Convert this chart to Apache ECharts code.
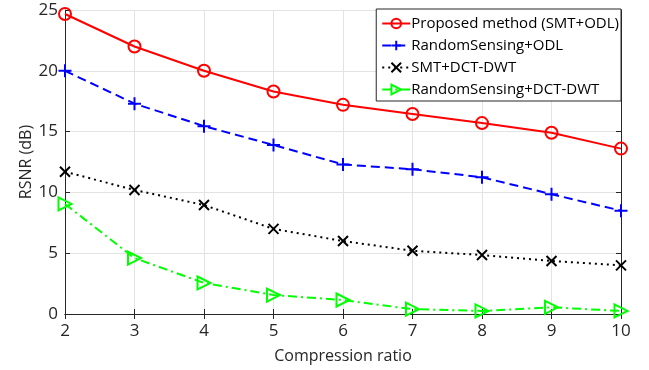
<!DOCTYPE html>
<html><head><meta charset="utf-8">
<script src="https://cdn.jsdelivr.net/npm/echarts@6/dist/echarts.min.js"></script>
<style>html,body{margin:0;padding:0;background:#fff}#c{width:649px;height:370px}</style>
</head><body><div id="c"></div>
<script>
const categories = [2, 3, 4, 5, 6, 7, 8, 9, 10];
const seriesNames = ['Proposed method (SMT+ODL)', 'RandomSensing+ODL', 'SMT+DCT-DWT', 'RandomSensing+DCT-DWT'];
const proposed = [24.67, 22.0, 20.0, 18.3, 17.2, 16.45, 15.7, 14.9, 13.6];
const randomOdl = [20.0, 17.3, 15.45, 13.9, 12.3, 11.9, 11.25, 9.85, 8.5];
const smtDct = [11.7, 10.2, 8.96, 7.0, 6.0, 5.2, 4.85, 4.36, 4.0];
const randomDct = [9.05, 4.6, 2.55, 1.56, 1.15, 0.4, 0.25, 0.55, 0.25];
const yTicks = [0, 5, 10, 15, 20, 25];

const font = 'Open Sans';
const axisCol = '#262626';
const pair = arr => arr.map((v, i) => [categories[i], v]);

function mk(name, data, color, symbol, size, lineType) {
  return {
    name, type: 'line', data: pair(data), symbol, symbolSize: size,
    showAllSymbol: true,
    lineStyle: { color, width: 2, type: lineType },
    itemStyle: { color: 'transparent', borderColor: color, borderWidth: 2 },
    emphasis: { disabled: true }, z: 3
  };
}
const chart = echarts.init(document.getElementById('c'), null, { renderer: 'canvas' });
const baseX = {
  type: 'value', min: 2, max: 10, interval: 1,
  axisLine: { show: true, lineStyle: { color: axisCol, width: 1 } },
  axisTick: { show: true, inside: true, length: 5, lineStyle: { color: axisCol } },
};
const baseY = {
  type: 'value', min: yTicks[0], max: yTicks[yTicks.length - 1], interval: 5,
  axisLine: { show: true, lineStyle: { color: axisCol, width: 1 } },
  axisTick: { show: true, inside: true, length: 5, lineStyle: { color: axisCol } },
};
chart.setOption({
  animation: false,
  grid: { left: 65, right: 28, top: 10, bottom: 56, containLabel: false, outerBoundsMode: 'none' },
  legend: {
    orient: 'vertical', right: 28, top: 9,
    data: seriesNames,
    backgroundColor: '#fff', borderColor: axisCol, borderWidth: 1,
    padding: [7, 2, 4, 5], itemGap: 7, itemWidth: 28, itemHeight: 12,
    textStyle: { fontFamily: font, fontSize: 15, color: '#000', padding: [0, 0, 0, -4] },
    z: 10
  },
  xAxis: [
    Object.assign({}, baseX, {
      position: 'bottom',
      name: 'Compression ratio', nameLocation: 'middle', nameGap: 34, nameMoveOverlap: false,
      nameTextStyle: { fontFamily: font, fontSize: 16, color: axisCol },
      axisLabel: { fontFamily: font, fontSize: 17, color: axisCol, margin: 9 },
      splitLine: { show: true, lineStyle: { color: '#e3e3e3', width: 1 } }
    }),
    Object.assign({}, baseX, {
      position: 'top', axisLabel: { show: false }, splitLine: { show: false }
    })
  ],
  yAxis: [
    Object.assign({}, baseY, {
      position: 'left',
      name: 'RSNR (dB)', nameLocation: 'middle', nameGap: 31, nameMoveOverlap: false,
      nameTextStyle: { fontFamily: font, fontSize: 16, color: axisCol },
      axisLabel: { fontFamily: font, fontSize: 17, color: axisCol, margin: 7 },
      splitLine: { show: true, lineStyle: { color: '#e3e3e3', width: 1 } }
    }),
    Object.assign({}, baseY, {
      position: 'right', axisLabel: { show: false }, splitLine: { show: false }
    })
  ],
  series: [
    mk(seriesNames[0], proposed, '#ff0000', 'circle', 12, 'solid'),
    mk(seriesNames[1], randomOdl, '#0000ff', 'path://M0,5L10,5M5,0L5,10', 13, [9, 5]),
    mk(seriesNames[2], smtDct, '#000000', 'path://M0,0L10,10M10,0L0,10', 10, [2, 4]),
    mk(seriesNames[3], randomDct, '#00ff00', 'path://M0,0L10,5L0,10Z', 13, [9, 4, 2, 4])
  ]
});
</script></body></html>
